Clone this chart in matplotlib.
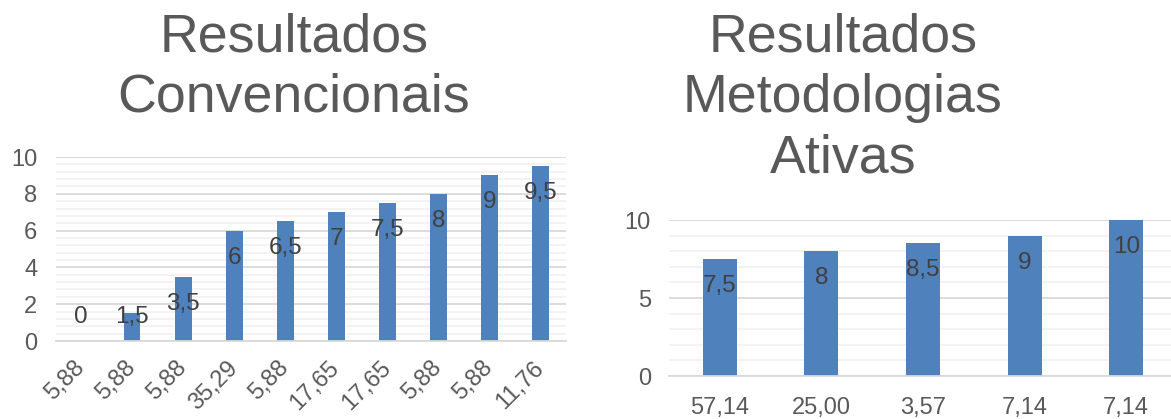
import matplotlib.pyplot as plt
from matplotlib.ticker import MultipleLocator

plt.rcParams['font.family'] = ['Liberation Sans', 'DejaVu Sans']

# dados
conv_labels = ['5,88', '5,88', '5,88', '35,29', '5,88', '17,65', '17,65', '5,88', '5,88', '11,76']
conv_values = [0, 1.5, 3.5, 6, 6.5, 7, 7.5, 8, 9, 9.5]

ativ_labels = ['57,14', '25,00', '3,57', '7,14', '7,14']
ativ_values = [7.5, 8, 8.5, 9, 10]

BAR = '#4F81BD'
TXT = '#595959'
W, H = 1171, 419


def fmt(v):
    return ('%g' % v).replace('.', ',')


def style_axes(ax, major, minor):
    ax.set_ylim(0, 10)
    ax.yaxis.set_major_locator(MultipleLocator(major))
    ax.yaxis.set_minor_locator(MultipleLocator(minor))
    ax.yaxis.set_major_formatter(plt.FuncFormatter(lambda v, p: fmt(v)))
    ax.grid(axis='y', which='major', color='#D9D9D9', linewidth=1.3)
    ax.grid(axis='y', which='minor', color='#F2F2F2', linewidth=1.3)
    ax.set_axisbelow(True)
    for s in ['top', 'right', 'left']:
        ax.spines[s].set_visible(False)
    ax.spines['bottom'].set_color('#D9D9D9')
    ax.spines['bottom'].set_linewidth(1.3)
    ax.tick_params(which='both', length=0, labelsize=17, labelcolor=TXT)
    ax.tick_params(axis='y', pad=13)


def bar_labels(ax, values, ppu):
    # rótulos "extremidade interna", empurrados para cima em barras curtas
    for i, v in enumerate(values):
        y = max(v - 27 / ppu, 24 / ppu)
        ax.text(i, y, fmt(v), ha='center', va='center', fontsize=17.5, color='#404040')


fig = plt.figure(figsize=(W / 100, H / 100), dpi=100)

# gráfico da esquerda
ax1 = fig.add_axes([55.5 / W, (H - 341) / H, 510.5 / W, 184 / H])
x1 = range(len(conv_values))
ax1.bar(x1, conv_values, width=0.33, color=BAR)
ax1.set_xlim(-0.5, len(conv_values) - 0.5)
style_axes(ax1, 2, 0.4)
ax1.set_xticks(list(x1))
ax1.set_xticklabels(conv_labels, rotation=45, ha='right', va='center', rotation_mode='anchor')
ax1.tick_params(axis='x', pad=17)
bar_labels(ax1, conv_values, 18.4)

# gráfico da direita
ax2 = fig.add_axes([669 / W, (H - 376) / H, 508 / W, 156 / H])
x2 = range(len(ativ_values))
ax2.bar(x2, ativ_values, width=0.335, color=BAR)
ax2.set_xlim(-0.5, len(ativ_values) - 0.5)
style_axes(ax2, 5, 1)
ax2.set_xticks(list(x2))
ax2.set_xticklabels(ativ_labels)
ax2.tick_params(axis='x', pad=15)
bar_labels(ax2, ativ_values, 15.6)

fig.text(294 / W, 1 - 12 / H, 'Resultados\nConvencionais', ha='center', va='top',
         fontsize=38.7, color=TXT, linespacing=1.28)
fig.text(843 / W, 1 - 12 / H, 'Resultados\nMetodologias\nAtivas', ha='center', va='top',
         fontsize=38.7, color=TXT, linespacing=1.28)

fig.savefig('out.png', dpi=100)
